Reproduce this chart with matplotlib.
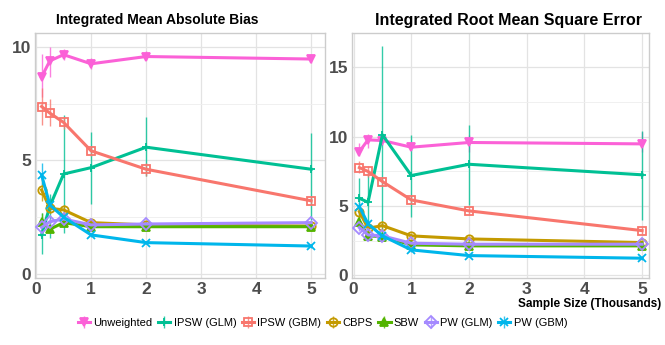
import matplotlib
matplotlib.use('Agg')
import matplotlib.pyplot as plt
import numpy as np

###############################################################################
#0. Data
###############################################################################
sample_sizes = [0.1, 0.25, 0.5, 1, 2, 5]
methods = ['Unweighted', 'IPSW (GLM)', 'IPSW (GBM)', 'CBPS', 'SBW', 'PW (GLM)', 'PW (GBM)']
colors = ['#FB61D7', '#00C094', '#F8766D', '#C49A00', '#53B400', '#A58AFF', '#00B6EB']
markers = ['v', '+', 's', 'o', '^', 'D', 'x']

#Integrated mean absolute bias: mean, lower, upper
imab_mean = {
    'Unweighted': [8.67, 9.38, 9.65, 9.25, 9.57, 9.46],
    'IPSW (GLM)': [1.72, 2.98, 4.40, 4.68, 5.58, 4.61],
    'IPSW (GBM)': [7.37, 7.08, 6.67, 5.42, 4.61, 3.22],
    'CBPS':       [3.70, 2.89, 2.82, 2.26, 2.16, 2.11],
    'SBW':        [2.30, 1.97, 2.26, 2.08, 2.08, 2.08],
    'PW (GLM)':   [2.05, 2.30, 2.42, 2.16, 2.20, 2.26],
    'PW (GBM)':   [4.36, 3.04, 2.50, 1.72, 1.38, 1.23],
}
imab_low = {
    'Unweighted': [7.80, 8.67, 9.40, 9.00, 9.40, 9.30],
    'IPSW (GLM)': [0.90, 1.60, 1.80, 3.10, 4.29, 2.38],
    'IPSW (GBM)': [6.56, 6.50, 6.40, 5.20, 4.30, 3.05],
    'CBPS':       [3.20, 2.70, 2.60, 2.15, 2.05, 2.00],
    'SBW':        [1.90, 1.85, 2.10, 2.00, 2.00, 2.00],
    'PW (GLM)':   [1.90, 2.15, 2.30, 2.08, 2.10, 2.15],
    'PW (GBM)':   [3.90, 2.80, 2.30, 1.62, 1.30, 1.15],
}
imab_high = {
    'Unweighted': [9.70, 10.00, 9.90, 9.50, 9.80, 9.60],
    'IPSW (GLM)': [2.70, 3.50, 7.00, 6.27, 6.93, 6.20],
    'IPSW (GBM)': [8.20, 7.70, 6.90, 5.60, 4.90, 3.40],
    'CBPS':       [4.20, 3.10, 3.05, 2.40, 2.30, 2.25],
    'SBW':        [2.70, 2.10, 2.40, 2.15, 2.15, 2.15],
    'PW (GLM)':   [2.20, 2.45, 2.55, 2.25, 2.30, 2.38],
    'PW (GBM)':   [4.90, 3.30, 2.70, 1.82, 1.46, 1.32],
}

#Integrated root mean square error: mean, lower, upper
irmse_mean = {
    'Unweighted': [8.92, 9.76, 9.71, 9.23, 9.57, 9.47],
    'IPSW (GLM)': [5.55, 5.26, 10.12, 7.19, 8.00, 7.24],
    'IPSW (GBM)': [7.76, 7.48, 6.75, 5.43, 4.64, 3.22],
    'CBPS':       [4.59, 3.39, 3.58, 2.84, 2.62, 2.36],
    'SBW':        [3.87, 2.84, 2.79, 2.19, 2.12, 2.12],
    'PW (GLM)':   [3.44, 2.91, 2.84, 2.31, 2.24, 2.24],
    'PW (GBM)':   [4.95, 3.70, 2.84, 1.83, 1.42, 1.23],
}
irmse_low = {
    'Unweighted': [8.60, 9.20, 9.40, 9.00, 8.90, 8.90],
    'IPSW (GLM)': [4.00, 3.00, 3.00, 4.20, 5.10, 4.00],
    'IPSW (GBM)': [7.35, 7.10, 6.50, 5.20, 4.40, 3.00],
    'CBPS':       [4.20, 3.10, 3.30, 2.65, 2.45, 2.20],
    'SBW':        [3.50, 2.60, 2.60, 2.05, 2.00, 2.00],
    'PW (GLM)':   [3.20, 2.70, 2.65, 2.20, 2.15, 2.15],
    'PW (GBM)':   [4.60, 3.40, 2.65, 1.70, 1.30, 1.12],
}
irmse_high = {
    'Unweighted': [9.50, 10.20, 10.00, 9.50, 10.10, 10.30],
    'IPSW (GLM)': [7.00, 7.40, 16.50, 10.10, 10.80, 10.40],
    'IPSW (GBM)': [8.20, 7.85, 7.00, 5.70, 4.90, 3.45],
    'CBPS':       [5.00, 3.70, 3.90, 3.05, 2.80, 2.55],
    'SBW':        [4.30, 3.10, 3.00, 2.35, 2.25, 2.25],
    'PW (GLM)':   [3.70, 3.10, 3.05, 2.45, 2.35, 2.35],
    'PW (GBM)':   [5.30, 4.00, 3.05, 1.95, 1.55, 1.35],
}

###############################################################################
#1. Plot
###############################################################################
plt.rcParams['font.family'] = ['Liberation Sans', 'DejaVu Sans']

fig = plt.figure(figsize=(6.65, 3.45), dpi=100)
ax1 = fig.add_axes([0.0526, 0.194, 0.436, 0.710])
ax2 = fig.add_axes([0.530, 0.194, 0.446, 0.710])

def drawPanel(ax, mean, low, high, ylim, yticks, xlim):
    handles = []
    for method, color, marker in zip(methods, colors, markers):
        m = np.array(mean[method])
        lo = m - np.array(low[method])
        hi = np.array(high[method]) - m
        h = ax.errorbar(sample_sizes, m, yerr=[lo, hi], color=color, lw=2.2,
                        marker=marker, ms=6, mfc='none' if marker in ['s', 'o', 'D'] else color,
                        mec=color, mew=1.3, elinewidth=1.0, capsize=0, label=method, zorder=3)
        for bar in h[2]:
            bar.set_alpha(0.8)
        handles.append(h)
    ax.set_xticks([0, 1, 2, 3, 4, 5])
    ax.set_yticks(yticks)
    ax.set_yticks([t + (yticks[1] - yticks[0]) / 2 for t in yticks], minor=True)
    ax.set_xlim(xlim)
    ax.set_ylim(ylim)
    ax.grid(True, which='major', color='#E3E3E3', lw=0.9, zorder=0)
    ax.grid(True, which='minor', axis='y', color='#EEEEEE', lw=0.6, zorder=0)
    ax.set_axisbelow(True)
    for s in ax.spines.values():
        s.set_color('#CCCCCC')
        s.set_linewidth(1.0)
    ax.tick_params(which='both', length=0, labelsize=12.5, labelcolor='#4D4D4D', pad=3)
    ax.tick_params(which='minor', labelleft=False)
    for lab in ax.get_xticklabels() + ax.get_yticklabels():
        lab.set_fontweight('bold')
    return handles

handles = drawPanel(ax1, imab_mean, imab_low, imab_high, (-0.18, 10.6), [0, 5, 10], (-0.02, 5.25))
drawPanel(ax2, irmse_mean, irmse_low, irmse_high, (-0.2, 17.45), [0, 5, 10, 15], (-0.02, 5.12))

fig.text(0.236, 0.942, 'Integrated Mean Absolute Bias', ha='center', va='center',
         fontsize=10, fontweight='bold')
fig.text(0.764, 0.942, 'Integrated Root Mean Square Error', ha='center', va='center',
         fontsize=11.5, fontweight='bold')
fig.text(0.995, 0.118, 'Sample Size (Thousands)', ha='right', va='center',
         fontsize=8.5, fontweight='bold')

fig.legend(handles=handles, labels=methods, loc='center', bbox_to_anchor=(0.485, 0.064),
           ncol=7, frameon=False, handlelength=1.1, handletextpad=0.3,
           columnspacing=0.5, prop={'size': 8})

plt.savefig('out.png', dpi=100)
